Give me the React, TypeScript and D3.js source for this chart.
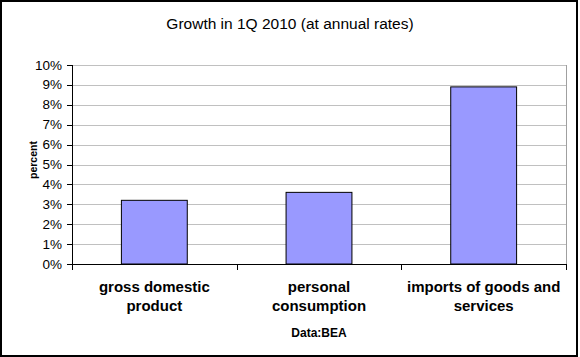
import React from "react";
import * as d3 from "d3";

const categories: string[][] = [
  ["gross domestic", "product"],
  ["personal", "consumption"],
  ["imports of goods and", "services"],
];
const values: number[] = [3.2, 3.6, 8.9];
const yTicks: number[] = [0, 1, 2, 3, 4, 5, 6, 7, 8, 9, 10];
const title = "Growth in 1Q 2010 (at annual rates)";
const yTitle = "percent";
const xTitle = "Data:BEA";

const W = 580;
const H = 357;
const left = 72;
const right = 566;
const top = 65;
const bottom = 264;
const FONT = "'Liberation Sans', Arial, sans-serif";

export default function App() {
  if (typeof document !== "undefined") document.body.style.margin = "0";
  const x = d3
    .scaleBand<number>()
    .domain(values.map((_, i) => i))
    .range([left, right])
    .paddingInner(0.6)
    .paddingOuter(0.3);
  const y = d3.scaleLinear().domain([0, 10]).range([bottom, top]);
  const step = x.step();
  const boundaries = d3.range(values.length + 1).map((i) => left + i * step);

  return (
    <svg width={W} height={H} style={{ display: "block" }} fontFamily={FONT}>
      <rect x={0} y={0} width={W} height={H} fill="#fff" />
      <rect x={1} y={1} width={576} height={355} fill="none" stroke="#000" strokeWidth={2} />
      <text x={290} y={29} textAnchor="middle" fontSize={15.5} fill="#000">
        {title}
      </text>
      {/* gridlines */}
      {yTicks.map((t) => (
        <line key={"g" + t} x1={left} x2={right} y1={Math.round(y(t)) + 0.5} y2={Math.round(y(t)) + 0.5} stroke="#c0c0c0" strokeWidth={1} />
      ))}
      <line x1={right + 0.5} x2={right + 0.5} y1={top} y2={bottom} stroke="#a0a0a0" strokeWidth={1} />
      {/* bars */}
      {values.map((v, i) => (
        <rect
          key={"b" + i}
          x={x(i)!}
          y={y(v)}
          width={x.bandwidth()}
          height={bottom - y(v)}
          fill="#9999ff"
          stroke="#000"
          strokeWidth={1}
        />
      ))}
      {/* axes */}
      <line x1={left + 0.5} x2={left + 0.5} y1={top} y2={bottom + 0.5} stroke="#000" strokeWidth={1} />
      <line x1={left} x2={right + 1} y1={bottom + 0.5} y2={bottom + 0.5} stroke="#000" strokeWidth={1} />
      {yTicks.map((t) => (
        <g key={"t" + t}>
          <line x1={left - 5} x2={left} y1={Math.round(y(t)) + 0.5} y2={Math.round(y(t)) + 0.5} stroke="#000" />
          <text x={62} y={y(t) + 4.5} textAnchor="end" fontSize={13.5} fill="#000">
            {t + "%"}
          </text>
        </g>
      ))}
      {boundaries.map((b, i) => (
        <line key={"xt" + i} x1={Math.round(b) + 0.5} x2={Math.round(b) + 0.5} y1={bottom} y2={bottom + 6} stroke="#000" />
      ))}
      {categories.map((lines, i) => (
        <text key={"c" + i} textAnchor="middle" fontSize={15} fontWeight="bold" fill="#000">
          {lines.map((l, j) => (
            <tspan key={j} x={x(i)! + x.bandwidth() / 2} y={292 + j * 18.5}>
              {l}
            </tspan>
          ))}
        </text>
      ))}
      <text x={(left + right) / 2} y={336.5} textAnchor="middle" fontSize={12} fontWeight="bold" fill="#000">
        {xTitle}
      </text>
      <text
        transform={`translate(36.5,160) rotate(-90)`}
        textAnchor="middle"
        fontSize={10.5}
        fontWeight="bold"
        fill="#000"
      >
        {yTitle}
      </text>
    </svg>
  );
}
